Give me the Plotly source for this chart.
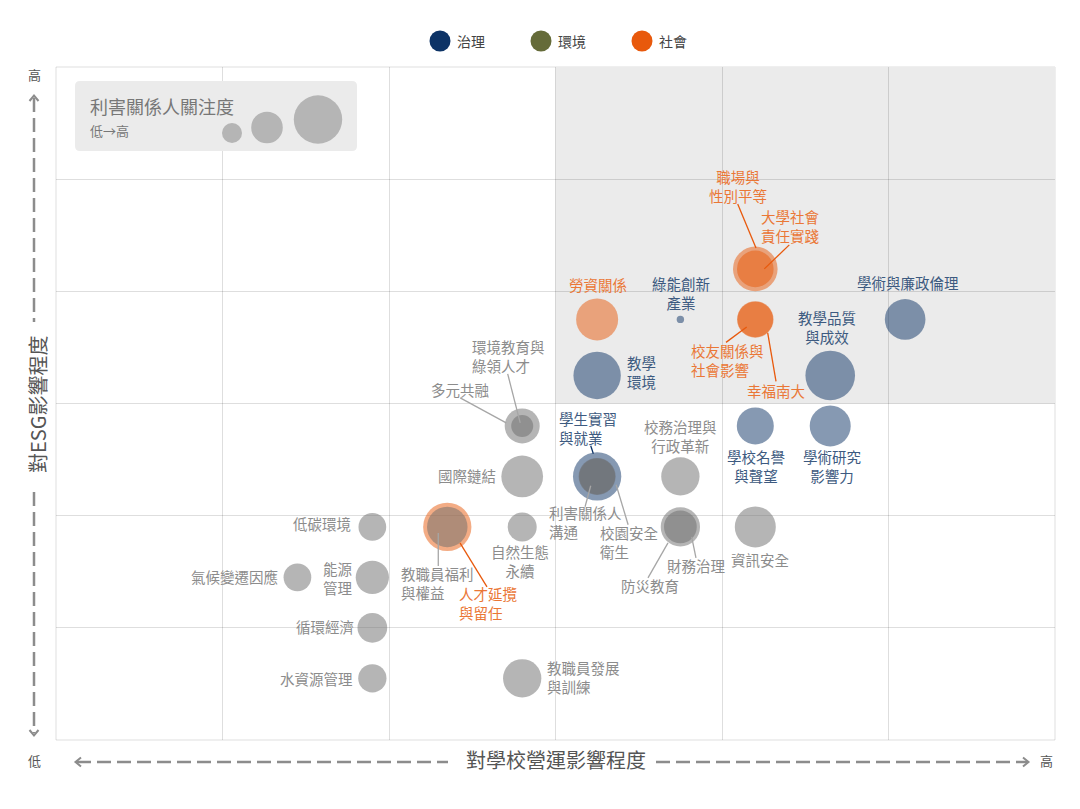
import plotly.graph_objects as go

# ---------------- data ----------------
topics = ["職場與性別平等", "大學社會責任實踐", "勞資關係", "綠能創新產業", "學術與廉政倫理",
          "校友關係與社會影響", "幸福南大", "教學環境", "教學品質與成效", "學校名譽與聲望",
          "學術研究影響力", "多元共融", "環境教育與綠領人才", "國際鏈結", "學生實習與就業",
          "利害關係人溝通", "校園安全衛生", "校務治理與行政革新", "低碳環境", "教職員福利與權益",
          "人才延攬與留任", "自然生態永續", "防災教育", "財務治理", "資訊安全",
          "氣候變遷因應", "能源管理", "循環經濟", "水資源管理", "教職員發展與訓練"]
ops_impact = [4.2, 4.2, 3.25, 3.75, 5.1,
              4.2, 4.2, 3.25, 4.65, 4.2,
              4.65, 2.8, 2.8, 2.8, 3.25,
              3.25, 3.25, 3.75, 1.9, 2.35,
              2.35, 2.8, 3.75, 3.75, 4.2,
              1.45, 1.9, 1.9, 1.9, 2.8]
esg_impact = [4.2, 4.2, 3.75, 3.75, 3.75,
              3.75, 3.75, 3.25, 3.25, 2.8,
              2.8, 2.8, 2.8, 2.35, 2.35,
              2.35, 2.35, 2.35, 1.9, 1.9,
              1.9, 1.9, 1.9, 1.9, 1.9,
              1.45, 1.45, 1.0, 0.55, 0.55]
attention = [44.6, 36.6, 42, 7.4, 40.6,
             36.5, 35.5, 47.4, 49.6, 37,
             41, 35, 22, 41.7, 48.3,
             37, 36, 38.3, 27.7, 40.5,
             48.3, 29, 39.3, 32.7, 41,
             27.7, 33.3, 29.7, 28.3, 38.3]
group = ["soc", "soc", "soc", "gov", "gov",
         "soc", "soc", "gov", "gov", "gov",
         "gov", "oth", "oth", "oth", "gov",
         "oth", "oth", "oth", "oth", "oth",
         "soc", "oth", "oth", "oth", "oth",
         "oth", "oth", "oth", "oth", "oth"]

legend_names = ["治理", "環境", "社會"]
legend_colors = ["#0d3366", "#656b39", "#e8590c"]

axis_x_title = "對學校營運影響程度"
axis_y_title = "對ESG影響程度"
size_title = "利害關係人關注度"
size_sub = "低→高"
size_demo = [20, 31.6, 48.4]

# ---------------- styling ----------------
fill = {"gov": "#0d3366", "soc": "#e8590c", "oth": "#6b6b6b"}
text_col = {"gov": "#3d5a80", "soc": "#ea7736", "oth": "#8c8c8c"}
line_col = {"gov": "#0d3366", "soc": "#e8590c", "oth": "#a6a6a6"}
FONT = "Noto Sans CJK TC, Noto Sans, sans-serif"

W, H = 1080, 809
L, R, T, B = 56, 25, 67, 69
PW, PH = W - L - R, H - T - B
XU, YU = PW / 6.0, PH / 6.0

# label layout: text, xanchor, dx, dy (screen px from bubble centre), leader line offsets
labels = {
    "職場與性別平等": ("職場與<br>性別平等", "center", -17, -83, (-17.6, -65, 0.7, -21)),
    "大學社會責任實踐": ("大學社會<br>責任實踐", "center", 35, -43, (34, -24, 9, 0)),
    "勞資關係": ("勞資關係", "center", 1, -35, None),
    "綠能創新產業": ("綠能創新<br>產業", "center", 0.6, -26, None),
    "學術與廉政倫理": ("學術與廉政倫理", "center", 3, -37, None),
    "校友關係與社會影響": ("校友關係與<br>社會影響", "left", -66, 41, (-8.6, 7.6, -29.3, 23)),
    "幸福南大": ("幸福南大", "center", 21, 71, (12.4, 13.6, 20.7, 62)),
    "教學環境": ("教學<br>環境", "left", 28, -3, None),
    "教學品質與成效": ("教學品質<br>與成效", "center", -3, -48, None),
    "學校名譽與聲望": ("學校名譽<br>與聲望", "center", 1, 40, None),
    "學術研究影響力": ("學術研究<br>影響力", "center", 2, 40, None),
    "多元共融": ("多元共融", "center", -62, -36, (-62, -28, -16, -3)),
    "環境教育與綠領人才": ("環境教育與<br>綠領人才", "left", -52, -70, (-14.5, -52, -2, -3)),
    "國際鏈結": ("國際鏈結", "right", -24, -1, None),
    "學生實習與就業": ("學生實習<br>與就業", "left", -40, -48, (-6.4, -30.7, -3.8, -22.7)),
    "利害關係人溝通": ("利害關係人<br>溝通", "left", -50, 46, (-6.4, 9.3, -12.1, 30.3)),
    "校園安全衛生": ("校園安全<br>衛生", "left", 1, 66, (19, 8.3, 31, 48.3)),
    "校務治理與行政革新": ("校務治理與<br>行政革新", "center", 0.6, -40, None),
    "低碳環境": ("低碳環境", "right", -19, -3, None),
    "教職員福利與權益": ("教職員福利<br>與權益", "left", -48, 56, (-9, 6, -9, 39)),
    "人才延攬與留任": ("人才延攬<br>與留任", "left", 10, 76, (12.7, 16, 39.7, 60)),
    "自然生態永續": ("自然生態<br>永續", "center", -2, 34, None),
    "防災教育": ("防災教育", "center", -30, 59, (-12.4, 16, -32.4, 51)),
    "財務治理": ("財務治理", "center", 16, 39, (11.3, 10, 15.6, 31)),
    "資訊安全": ("資訊安全", "center", 5, 33, None),
    "氣候變遷因應": ("氣候變遷因應", "right", -17, -1, None),
    "能源管理": ("能源<br>管理", "right", -17, 1, None),
    "循環經濟": ("循環經濟", "right", -16, -1, None),
    "水資源管理": ("水資源管理", "right", -17, 0, None),
    "教職員發展與訓練": ("教職員發展<br>與訓練", "left", 23, -1, None),
}


def PX(p):
    return (p - L) / PW


def PY(p):
    return (H - B - p) / PH


fig = go.Figure()

# bubbles, larger first
order = sorted(range(len(topics)), key=lambda i: -attention[i])
fig.add_trace(go.Scatter(
    x=[ops_impact[i] for i in order],
    y=[esg_impact[i] for i in order],
    mode="markers",
    marker=dict(size=[attention[i] for i in order],
                color=[fill[group[i]] for i in order],
                opacity=0.5, line=dict(width=0)),
    text=[topics[i] for i in order],
    hovertemplate="%{text}<extra></extra>",
    showlegend=False,
))

shapes = []
annotations = []

grid = "rgba(0,0,0,0.13)"

# highlighted quadrant
shapes.append(dict(type="rect", xref="x", yref="y", x0=3, x1=6, y0=3, y1=6,
                   fillcolor="#ebebeb", line=dict(width=0), layer="below"))
# plot frame
shapes.append(dict(type="rect", xref="paper", yref="paper", x0=0, x1=1, y0=0, y1=1,
                   fillcolor="rgba(0,0,0,0)", line=dict(color=grid, width=1), layer="below"))

for i, t in enumerate(topics):
    txt, xa, dx, dy, ln = labels[t]
    g = group[i]
    annotations.append(dict(x=ops_impact[i], y=esg_impact[i], xref="x", yref="y",
                            text=txt, showarrow=False, xanchor=xa, yanchor="middle",
                            align=xa if xa != "center" else "center",
                            xshift=dx, yshift=-dy,
                            font=dict(family=FONT, size=14.5, color=text_col[g])))
    if ln:
        x0, y0, x1, y1 = ln
        shapes.append(dict(type="line", xref="x", yref="y",
                           x0=ops_impact[i] + x0 / XU, y0=esg_impact[i] - y0 / YU,
                           x1=ops_impact[i] + x1 / XU, y1=esg_impact[i] - y1 / YU,
                           line=dict(color=line_col[g], width=1.3), layer="above"))

# size legend box
bx0, bx1, by0, by1, r = 75, 357, 81, 151, 5
path = (f"M {PX(bx0+r)},{PY(by0)} L {PX(bx1-r)},{PY(by0)} Q {PX(bx1)},{PY(by0)} {PX(bx1)},{PY(by0+r)} "
        f"L {PX(bx1)},{PY(by1-r)} Q {PX(bx1)},{PY(by1)} {PX(bx1-r)},{PY(by1)} "
        f"L {PX(bx0+r)},{PY(by1)} Q {PX(bx0)},{PY(by1)} {PX(bx0)},{PY(by1-r)} "
        f"L {PX(bx0)},{PY(by0+r)} Q {PX(bx0)},{PY(by0)} {PX(bx0+r)},{PY(by0)} Z")
shapes.append(dict(type="path", xref="paper", yref="paper", path=path,
                   fillcolor="#ebebeb", line=dict(width=0), layer="above"))
demo_pos = [(232, 133), (267, 127.5), (318, 119.5)]
for (cx, cy), d in zip(demo_pos, size_demo):
    shapes.append(dict(type="circle", xref="paper", yref="paper",
                       xsizemode="pixel", ysizemode="pixel",
                       xanchor=PX(cx), yanchor=PY(cy),
                       x0=-d / 2, x1=d / 2, y0=-d / 2, y1=d / 2,
                       fillcolor="#b5b5b5", line=dict(width=0), layer="above"))
annotations.append(dict(x=PX(88), y=PY(106), xref="paper", yref="paper", text=size_title,
                        showarrow=False, xanchor="left", yanchor="middle",
                        font=dict(family=FONT, size=18, color="#777777")))
annotations.append(dict(x=PX(88), y=PY(130), xref="paper", yref="paper", text=size_sub,
                        showarrow=False, xanchor="left", yanchor="middle",
                        font=dict(family=FONT, size=13, color="#777777")))

# top legend
leg_x = [440, 541, 642]
for (nm, col, lx) in zip(legend_names, legend_colors, leg_x):
    shapes.append(dict(type="circle", xref="paper", yref="paper",
                       xsizemode="pixel", ysizemode="pixel",
                       xanchor=PX(lx), yanchor=PY(41),
                       x0=-10.5, x1=10.5, y0=-10.5, y1=10.5,
                       fillcolor=col, line=dict(width=0)))
    annotations.append(dict(x=PX(lx + 15), y=PY(41), xref="paper", yref="paper", text=nm,
                            showarrow=False, xanchor="left", yanchor="middle",
                            font=dict(family=FONT, size=14, color="#444444")))

# axis arrows
AC = "#8c8c8c"
dash = "14px,6px"
def seg(x0, y0, x1, y1, d=dash, w=2.5):
    shapes.append(dict(type="line", xref="paper", yref="paper",
                       x0=PX(x0), y0=PY(y0), x1=PX(x1), y1=PY(y1),
                       line=dict(color=AC, width=w, dash=d)))
def chev(pts):
    p = "M " + " L ".join(f"{PX(a)},{PY(b)}" for a, b in pts)
    shapes.append(dict(type="path", xref="paper", yref="paper", path=p,
                       line=dict(color=AC, width=2)))

seg(34, 98, 34, 322)
seg(34, 492, 34, 733)
chev([(29.5, 101), (34, 95.5), (38.5, 101)])
chev([(29.5, 730), (34, 735.5), (38.5, 730)])
seg(77, 762, 448, 762)
seg(656, 762, 1027, 762)
chev([(81, 757.5), (75.5, 762), (81, 766.5)])
chev([(1023, 757.5), (1028.5, 762), (1023, 766.5)])

annotations.append(dict(x=PX(556), y=PY(760), xref="paper", yref="paper", text=axis_x_title,
                        showarrow=False, xanchor="center", yanchor="middle",
                        font=dict(family=FONT, size=20, color="#555555")))
annotations.append(dict(x=PX(37), y=PY(405), xref="paper", yref="paper", text=axis_y_title,
                        showarrow=False, xanchor="center", yanchor="middle", textangle=-90,
                        font=dict(family=FONT, size=20, color="#555555")))
for tx, ax, ay in [("高", 34, 75), ("低", 34, 761), ("高", 1046, 761)]:
    annotations.append(dict(x=PX(ax), y=PY(ay), xref="paper", yref="paper", text=tx,
                            showarrow=False, xanchor="center", yanchor="middle",
                            font=dict(family=FONT, size=13, color="#555555")))

fig.update_layout(
    width=W, height=H,
    margin=dict(l=L, r=R, t=T, b=B),
    paper_bgcolor="white", plot_bgcolor="white",
    xaxis=dict(range=[0, 6], dtick=1, tick0=0, showticklabels=False, ticks="",
               showgrid=True, gridcolor=grid, gridwidth=1, zeroline=False,
               showline=False, fixedrange=True),
    yaxis=dict(range=[0, 6], dtick=1, tick0=0, showticklabels=False, ticks="",
               showgrid=True, gridcolor=grid, gridwidth=1, zeroline=False,
               showline=False, fixedrange=True),
    shapes=shapes, annotations=annotations,
    font=dict(family=FONT),
    showlegend=False,
)

fig.write_html("out.html")
